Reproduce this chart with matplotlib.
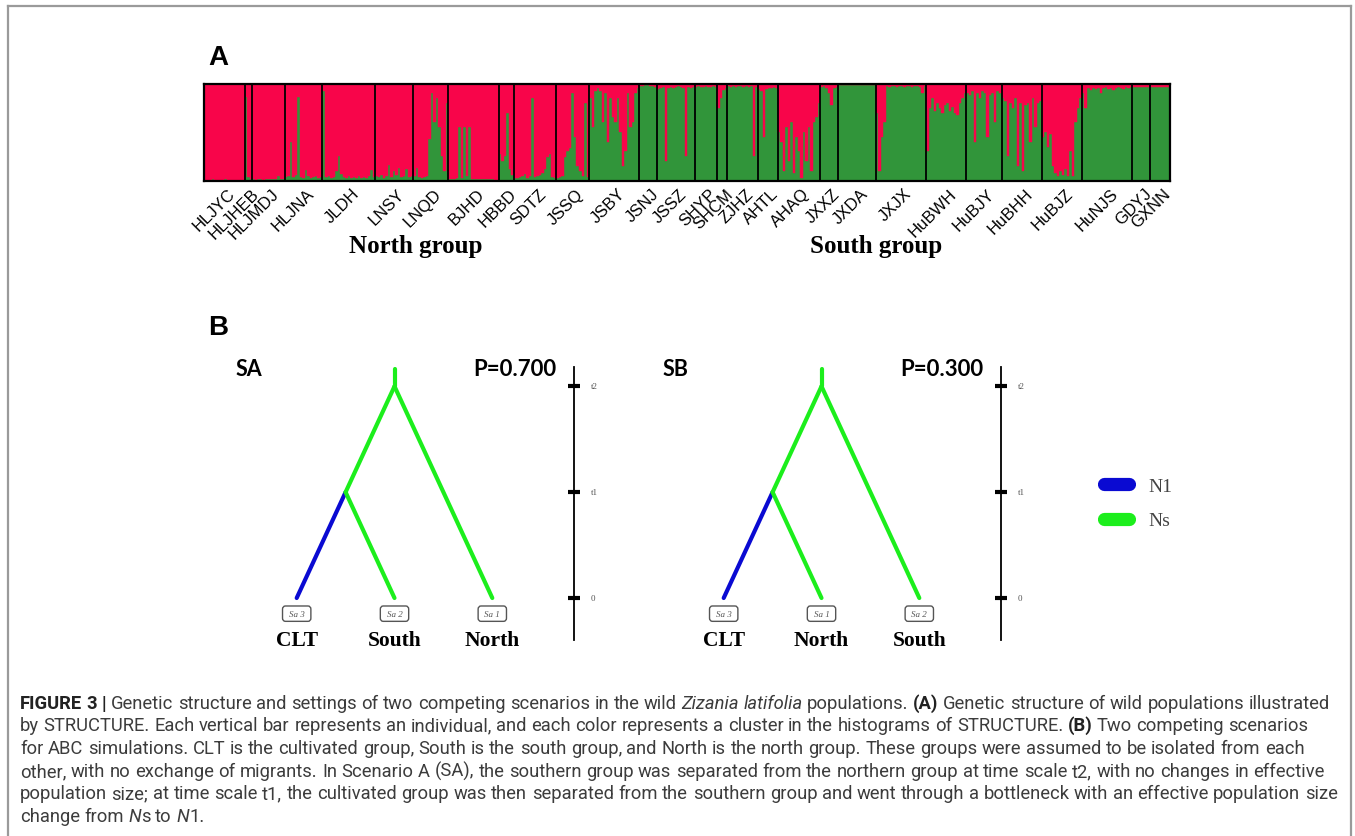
import re
import numpy as np
import matplotlib
matplotlib.use("Agg")
import matplotlib.pyplot as plt
import matplotlib.transforms as mtrans
from matplotlib.patches import FancyBboxPatch
from matplotlib.lines import Line2D
from matplotlib.font_manager import FontProperties

# ---------------- data: STRUCTURE membership (green cluster fraction per individual) ----------------
populations = ["HLJYC", "HLJHEB", "HLJMDJ", "HLJNA", "JLDH", "LNSY", "LNQD", "BJHD", "HBBD",
               "SDTZ", "JSSQ", "JSBY", "JSNJ", "JSSZ", "SHYP", "SHCM", "ZJHZ", "AHTL", "AHAQ",
               "JXXZ", "JXDA", "JXJX", "HuBWH", "HuBJY", "HuBHH", "HuBJZ", "HuNJS", "GDYJ", "GXNN"]

q_HLJYC = [0.01, 0.01, 0.01, 0.02, 0.01, 0.01, 0.01, 0.01, 0.02, 0.01, 0.01, 0.01, 0.01, 0.01, 0.01, 0.01]
q_HLJHEB = [0.86, 0.04, 0.02]
q_HLJMDJ = [0.02, 0.01, 0.02, 0.02, 0.01, 0.02, 0.02, 0.02, 0.02, 0.02, 0.05, 0.02, 0.02]
q_HLJNA = [0.04, 0.05, 0.40, 0.04, 0.06, 0.86, 0.04, 0.03, 0.11, 0.05, 0.03, 0.04, 0.05, 0.03, 0.04]
q_JLDH = [0.92, 0.04, 0.05, 0.03, 0.04, 0.10, 0.25, 0.07, 0.04, 0.03, 0.05, 0.03, 0.04, 0.03, 0.05,
          0.03, 0.04, 0.03, 0.05, 0.11, 0.04]
q_LNSY = [0.05, 0.04, 0.06, 0.03, 0.05, 0.16, 0.04, 0.10, 0.06, 0.13, 0.04, 0.05, 0.12, 0.04, 0.05]
q_LNQD = [0.05, 0.13, 0.04, 0.03, 0.04, 0.05, 0.43, 0.90, 0.60, 0.85, 0.55, 0.25, 0.10, 0.80]
q_BJHD = [0.02, 0.02, 0.02, 0.03, 0.55, 0.03, 0.55, 0.05, 0.55, 0.02, 0.02, 0.02, 0.02, 0.02, 0.02,
          0.02, 0.02, 0.02, 0.01, 0.01]
q_HBBD = [0.27, 0.20, 0.25, 0.70, 0.12, 0.06]
q_SDTZ = [0.03, 0.03, 0.04, 0.05, 0.07, 0.03, 0.05, 0.85, 0.04, 0.05, 0.06, 0.08, 0.12, 0.24, 0.27, 0.04, 0.03]
q_JSSQ = [0.03, 0.04, 0.05, 0.24, 0.30, 0.34, 0.90, 0.45, 0.15, 0.10, 0.05, 0.80, 0.04]
q_JSBY = [0.85, 0.55, 0.92, 0.95, 0.92, 0.60, 0.90, 0.40, 0.85, 0.65, 0.60, 0.85, 0.50, 0.15, 0.30,
          0.90, 0.55, 0.60, 0.90, 0.95]
q_JSNJ = [0.97, 0.97, 0.98, 0.98, 0.97, 0.97, 0.96]
q_JSSZ = [0.94, 0.95, 0.96, 0.20, 0.95, 0.96, 0.95, 0.96, 0.97, 0.96, 0.95, 0.25, 0.96, 0.95, 0.96]
q_SHYP = [0.96, 0.97, 0.96, 0.96, 0.97, 0.96, 0.96, 0.97, 0.96]
q_SHCM = [0.75, 0.85, 0.93, 0.95]
q_ZJHZ = [0.97, 0.96, 0.97, 0.96, 0.97, 0.97, 0.96, 0.97, 0.96, 0.97, 0.25, 0.96]
q_AHTL = [0.94, 0.92, 0.45, 0.94, 0.95, 0.95, 0.96, 0.95]
q_AHAQ = [0.50, 0.40, 0.10, 0.55, 0.20, 0.60, 0.08, 0.45, 0.30, 0.03, 0.50, 0.20, 0.55, 0.10, 0.60, 0.65, 0.80]
q_JXXZ = [0.96, 0.97, 0.95, 0.90, 0.78, 0.95, 0.96]
q_JXDA = [0.985, 0.985, 0.985, 0.985, 0.985, 0.985, 0.985, 0.985, 0.985, 0.985, 0.985, 0.985, 0.985, 0.985, 0.985]
q_JXJX = [0.70, 0.10, 0.45, 0.60, 0.97, 0.96, 0.97, 0.97, 0.96, 0.97, 0.97, 0.96, 0.97, 0.97, 0.96,
          0.97, 0.97, 0.96, 0.90, 0.97]
q_HuBWH = [0.30, 0.75, 0.85, 0.72, 0.80, 0.75, 0.70, 0.78, 0.80, 0.72, 0.76, 0.70, 0.68, 0.80, 0.85, 0.90]
q_HuBJY = [0.90, 0.88, 0.92, 0.40, 0.90, 0.85, 0.92, 0.90, 0.45, 0.88, 0.90, 0.60, 0.92, 0.90]
q_HuBHH = [0.85, 0.82, 0.25, 0.80, 0.75, 0.85, 0.15, 0.80, 0.10, 0.78, 0.80, 0.40, 0.85, 0.55, 0.80, 0.82]
q_HuBJZ = [0.45, 0.50, 0.35, 0.48, 0.15, 0.08, 0.05, 0.10, 0.06, 0.12, 0.05, 0.30, 0.05, 0.60, 0.75, 0.85]
q_HuNJS = [0.90, 0.75, 0.95, 0.93, 0.95, 0.94, 0.95, 0.90, 0.95, 0.96, 0.94, 0.95, 0.93, 0.95, 0.96,
           0.95, 0.94, 0.96, 0.95, 0.96]
q_GDYJ = [0.96, 0.96, 0.96, 0.96, 0.96, 0.96, 0.96]
q_GXNN = [0.96, 0.96, 0.96, 0.96, 0.96, 0.96, 0.96, 0.96]

membership = [q_HLJYC, q_HLJHEB, q_HLJMDJ, q_HLJNA, q_JLDH, q_LNSY, q_LNQD, q_BJHD, q_HBBD,
              q_SDTZ, q_JSSQ, q_JSBY, q_JSNJ, q_JSSZ, q_SHYP, q_SHCM, q_ZJHZ, q_AHTL, q_AHAQ,
              q_JXXZ, q_JXDA, q_JXJX, q_HuBWH, q_HuBJY, q_HuBHH, q_HuBJZ, q_HuNJS, q_GDYJ, q_GXNN]

group_labels = ["North group", "South group"]

# ---------------- data: scenario trees ----------------
time_labels = ["0", "t1", "t2"]
time_values = [0.0, 1.0, 2.0]
scenario_names = ["SA", "SB"]
scenario_probs = [0.700, 0.300]
scenario_leaves = [["CLT", "South", "North"], ["CLT", "North", "South"]]
scenario_ids = [["Sa 3", "Sa 2", "Sa 1"], ["Sa 3", "Sa 1", "Sa 2"]]
legend_labels = ["N1", "Ns"]

RED = "#F8054A"
GREEN = "#31953A"
LIME = "#1CEE1C"
BLUE = "#0A0AD2"

W, H = 1355, 837
fig = plt.figure(figsize=(W / 100, H / 100), dpi=100)


def px_rect(x0, y0, x1, y1):
    return [x0 / W, 1 - y1 / H, (x1 - x0) / W, (y1 - y0) / H]


# ---------------- frame ----------------
for xs, ys in [([8, 8], [837, 7]), ([8, 1351], [7, 7]), ([1351, 1351], [7, 837])]:
    fig.add_artist(Line2D([x / W for x in xs], [1 - y / H for y in ys],
                          transform=fig.transFigure, color="#9a9a9a", lw=1.6))

# ---------------- panel A: STRUCTURE bar plot ----------------
axs = fig.add_axes(px_rect(204.3, 84.5, 1170, 181.5))
start = 0
bounds = [0]
for q in membership:
    q = np.asarray(q)
    idx = np.arange(start, start + len(q))
    axs.bar(idx, q, width=1.0, align="edge", color=GREEN, edgecolor=GREEN, linewidth=0.3)
    axs.bar(idx, 1 - q, bottom=q, width=1.0, align="edge", color=RED, edgecolor=RED, linewidth=0.3)
    start += len(q)
    bounds.append(start)
N = start
for b in bounds[1:-1]:
    axs.axvline(b, color="black", lw=1.3)
axs.set_xlim(0, N)
axs.set_ylim(0, 1)
axs.set_xticks([])
axs.set_yticks([])
for sp in axs.spines.values():
    sp.set_linewidth(1.6)
    sp.set_color("black")

lab_trans = mtrans.offset_copy(axs.get_xaxis_transform(), fig=fig, x=3, y=-5, units="dots")
for name, b0, b1 in zip(populations, bounds[:-1], bounds[1:]):
    axs.text((b0 + b1) / 2, 0, name, transform=lab_trans, rotation=45, rotation_mode="anchor",
             ha="right", va="top", fontsize=12, family="Liberation Sans", color="black")

fig.text(416 / W, 1 - 246 / H, group_labels[0], family="Liberation Serif", fontweight="bold",
         fontsize=18, ha="center", va="center")
fig.text(876 / W, 1 - 246 / H, group_labels[1], family="Liberation Serif", fontweight="bold",
         fontsize=18, ha="center", va="center")

fig.text(208 / W, 1 - 58 / H, "A", family="Liberation Sans", fontweight="bold", fontsize=20,
         ha="left", va="center")
fig.text(208 / W, 1 - 328 / H, "B", family="Liberation Sans", fontweight="bold", fontsize=20,
         ha="left", va="center")


# ---------------- panel B: scenario trees ----------------
def draw_tree(ax, leaves, ids, name, prob):
    xs = [1.0, 2.0, 3.0]
    t0, t1, t2 = time_values
    node_x = (xs[0] + xs[1]) / 2
    slope = (node_x - xs[0]) / (t1 - t0)
    root_x = node_x + slope * (t2 - t1)
    kw = dict(lw=3.0, solid_capstyle="round", clip_on=False)
    ax.plot([xs[0], node_x], [t0, t1], color=BLUE, **kw)
    ax.plot([xs[1], node_x], [t0, t1], color=LIME, **kw)
    ax.plot([node_x, root_x], [t1, t2], color=LIME, **kw)
    ax.plot([xs[2], root_x], [t0, t2], color=LIME, **kw)
    ax.plot([root_x, root_x], [t2, t2 + 0.16], color=LIME, **kw)

    for x, lab, sid in zip(xs, leaves, ids):
        bw, bh = 0.29, 0.145
        ax.add_patch(FancyBboxPatch((x - bw / 2, -0.148 - bh / 2), bw, bh,
                                    boxstyle="round,pad=0,rounding_size=0.03",
                                    fc="white", ec="#555555", lw=1.0, clip_on=False))
        ax.text(x, -0.148, sid, fontsize=6.5, family="Liberation Serif", fontstyle="italic",
                color="#555555", ha="center", va="center")
        ax.text(x, -0.40, lab, fontsize=15.5, family="Liberation Serif", fontweight="bold",
                ha="center", va="center")

    # time scale
    tx = 3.835
    ax.plot([tx, tx], [-0.40, 2.18], color="black", lw=1.3, clip_on=False)
    for tv, tl in zip(time_values, time_labels):
        ax.plot([tx - 0.065, tx + 0.065], [tv, tv], color="black", lw=3.0, clip_on=False,
                solid_capstyle="butt")
        ax.text(tx + 0.17, tv, tl, fontsize=6.5, family="Liberation Serif", color="#555555",
                ha="left", va="center")

    ax.text(0.37, 2.165, name, fontsize=15.5, family="Lato", fontweight="bold",
            ha="left", va="center")
    ax.text(3.66, 2.165, "P=%.3f" % prob, fontsize=16, family="Lato", fontweight="bold",
            ha="right", va="center")
    ax.set_xlim(0, 4.5)
    ax.set_ylim(-0.6, 2.4)
    ax.axis("off")


for k in range(2):
    shift = 427 * k
    axt = fig.add_axes(px_rect(198.9 + shift, 345, 639 + shift, 662.5))
    draw_tree(axt, scenario_leaves[k], scenario_ids[k], scenario_names[k], scenario_probs[k])

handles = [Line2D([0], [0], color=BLUE, lw=9.5, solid_capstyle="round"),
           Line2D([0], [0], color=LIME, lw=9.5, solid_capstyle="round")]
fig.legend(handles, legend_labels, loc="center left", bbox_to_anchor=(1103.5 / W, 1 - 504.5 / H),
           frameon=False, handlelength=1.33, handletextpad=1.0, labelspacing=0.85,
           borderpad=0, borderaxespad=0,
           prop=FontProperties(family="Liberation Serif", size=14), labelcolor="#444444")

# ---------------- caption ----------------
caption_lines = [
    "**FIGURE 3 |** Genetic structure and settings of two competing scenarios in the wild *Zizania latifolia* populations. **(A)** Genetic structure of wild populations illustrated",
    "by STRUCTURE. Each vertical bar represents an individual, and each color represents a cluster in the histograms of STRUCTURE. **(B)** Two competing scenarios",
    "for ABC simulations. CLT is the cultivated group, South is the south group, and North is the north group. These groups were assumed to be isolated from each",
    "other, with no exchange of migrants. In Scenario A (SA), the southern group was separated from the northern group at time scale t2, with no changes in effective",
    "population size; at time scale t1, the cultivated group was then separated from the southern group and went through a bottleneck with an effective population size",
    "change from *N*s to *N*1.",
]

renderer = fig.canvas.get_renderer()


def parse(line):
    runs = []
    for part in re.split(r"(\*\*.*?\*\*|\*.*?\*)", line):
        if not part:
            continue
        if part.startswith("**"):
            runs.append((part[2:-2], "bold"))
        elif part.startswith("*"):
            runs.append((part[1:-1], "italic"))
        else:
            runs.append((part, "regular"))
    return runs


def fprop(style, size):
    if style == "bold":
        return FontProperties(family="Roboto", weight="bold", size=size)
    if style == "italic":
        return FontProperties(family="Roboto", style="italic", size=size)
    return FontProperties(family="Roboto", size=size)


def adv(s, fp):
    w1 = renderer.get_text_width_height_descent("x" + s + "x", fp, ismath=False)[0]
    w2 = renderer.get_text_width_height_descent("xx", fp, ismath=False)[0]
    return w1 - w2


def line_width(runs, size):
    return sum(adv(t, fprop(st, size)) for t, st in runs)


parsed = [parse(l) for l in caption_lines]
base = 10.0
widest = max(line_width(r, base) for r in parsed)
size = base * 1322.0 / widest

y0, dy = 702, 22.7
for i, runs in enumerate(parsed):
    x = 20.0
    yb = round(y0 + i * dy + 0.36 * size * 100 / 72)
    for text, st in runs:
        fp = fprop(st, size)
        pieces = text.split(" ")
        for j, p in enumerate(pieces):
            if j > 0:
                x += adv(" ", fp)
            if p:
                fig.text(x / W, 1 - yb / H, p, fontproperties=fp, ha="left", va="baseline",
                         color="#222222" if st == "bold" else "#3c3c3c")
                x += adv(p, fp)

fig.savefig("out.png", dpi=100)
